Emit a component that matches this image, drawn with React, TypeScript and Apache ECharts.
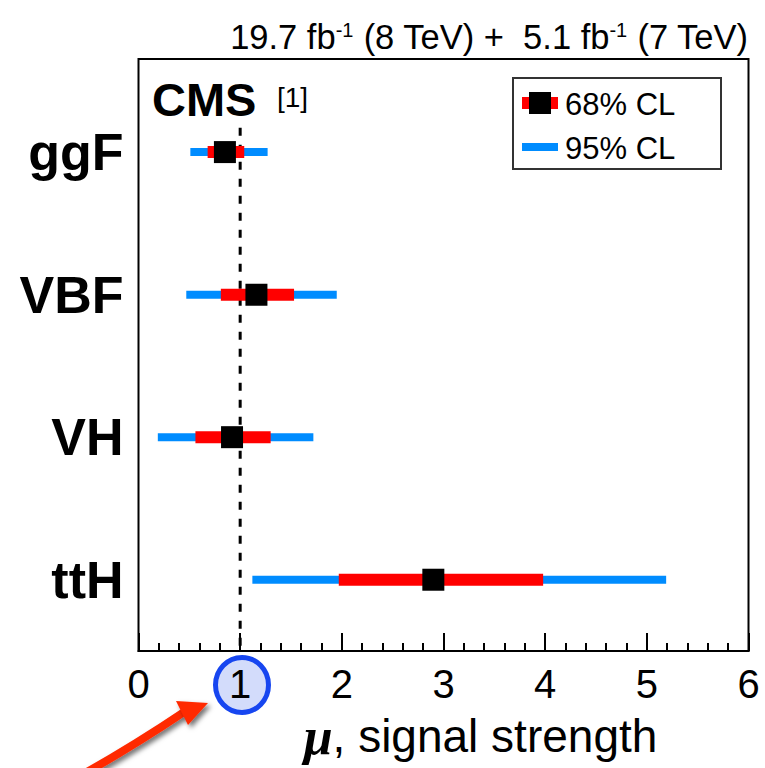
import React, { useEffect, useRef } from "react";
import * as echarts from "echarts";

// Production modes and their fitted signal strengths
const processes = ["ggF", "VBF", "VH", "ttH"];
const muBest = [0.85, 1.16, 0.92, 2.9];
const cl68Low = [0.68, 0.81, 0.56, 1.97];
const cl68High = [1.04, 1.53, 1.3, 3.98];
const cl95Low = [0.51, 0.47, 0.19, 1.12];
const cl95High = [1.27, 1.95, 1.72, 5.19];

// Standard Model expectation
const SM_MU = 1;

const xTicks = [0, 1, 2, 3, 4, 5, 6];

const RED = "#ff0000";
const BLUE = "#008cff";
const SANS = "'Liberation Sans', Arial, Helvetica, sans-serif";

const Y_MIN = -0.653;
const Y_MAX = 3.5;

export default function App() {
  const ref = useRef<HTMLDivElement>(null);

  useEffect(() => {
    if (!ref.current) return;
    const chart = echarts.init(ref.current, undefined, { renderer: "svg" });

    const rows = processes.map((_, i) => [
      i,
      muBest[i],
      cl68Low[i],
      cl68High[i],
      cl95Low[i],
      cl95High[i],
    ]);

    const option: any = {
      animation: false,
      backgroundColor: "#ffffff",
      grid: {
        left: 138.5,
        right: 16.5,
        top: 59,
        bottom: 117,
        outerBoundsMode: "none",
        containLabel: false,
        show: true,
        borderColor: "#000",
        borderWidth: 2,
        backgroundColor: "transparent",
      },
      xAxis: {
        type: "value",
        min: xTicks[0],
        max: xTicks[xTicks.length - 1],
        interval: 1,
        name: "{mu|μ}, signal strength",
        nameLocation: "middle",
        nameGap: 59,
        nameTextStyle: {
          fontFamily: SANS,
          fontSize: 46,
          color: "#000",
          padding: [0, 0, 0, 74],
          rich: {
            mu: {
              fontFamily: "'Liberation Serif', 'DejaVu Serif', serif",
              fontStyle: "italic",
              fontWeight: "bold",
              fontSize: 52,
              color: "#000",
            },
          },
        },
        axisLine: { show: true, onZero: false, lineStyle: { color: "#000", width: 2 } },
        axisTick: { show: true, inside: true, length: 18, lineStyle: { color: "#000", width: 2 } },
        minorTick: { show: true, splitNumber: 5, length: 8, lineStyle: { color: "#000", width: 2 } },
        splitLine: { show: false },
        axisLabel: {
          fontFamily: SANS,
          fontSize: 40,
          color: "#000",
          margin: 13,
          formatter: (v: number) => String(v),
        },
      },
      yAxis: {
        type: "value",
        inverse: true,
        min: Y_MIN,
        max: Y_MAX,
        axisLine: { show: false },
        axisTick: { show: false },
        splitLine: { show: false },
        axisLabel: {
          customValues: processes.map((_, i) => i),
          formatter: (v: number) => processes[Math.round(v)] ?? "",
          fontFamily: SANS,
          fontWeight: "bold",
          fontSize: 52,
          color: "#000",
          margin: 15,
        },
      },
      series: [
        {
          type: "line",
          data: [
            [SM_MU, -0.17],
            [SM_MU, Y_MAX],
          ],
          symbol: "none",
          lineStyle: { color: "#000", width: 3, type: [8, 9] },
          z: 1,
        },
        {
          type: "custom",
          data: rows,
          encode: { x: [1, 2, 3, 4, 5], y: 0 },
          z: 5,
          renderItem: (params: any, api: any) => {
            const row = api.value(0);
            const [xb, y] = api.coord([api.value(1), row]);
            const x68a = api.coord([api.value(2), row])[0];
            const x68b = api.coord([api.value(3), row])[0];
            const x95a = api.coord([api.value(4), row])[0];
            const x95b = api.coord([api.value(5), row])[0];
            return {
              type: "group",
              children: [
                {
                  type: "rect",
                  shape: { x: x95a, y: y - 4, width: x95b - x95a, height: 8 },
                  style: { fill: BLUE },
                },
                {
                  type: "rect",
                  shape: { x: x68a, y: y - 6, width: x68b - x68a, height: 12 },
                  style: { fill: RED },
                },
                {
                  type: "rect",
                  shape: { x: xb - 11, y: y - 11, width: 22, height: 22 },
                  style: { fill: "#000" },
                },
              ],
            };
          },
        },
      ],
      graphic: [
        // highlight around the SM tick label
        {
          type: "ellipse",
          z: -10,
          shape: { cx: 242, cy: 685, rx: 26.5, ry: 27.5 },
          style: { fill: "#d3dcfb", stroke: "#1746f0", lineWidth: 5 },
        },
        // pointer arrow
        {
          type: "bezierCurve",
          shape: { x1: 80, y1: 776, cpx1: 135, cpy1: 745, x2: 184, y2: 712 },
          style: {
            stroke: "#ff2a00",
            lineWidth: 8,
            fill: "none",
            shadowColor: "rgba(0,0,0,0.55)",
            shadowBlur: 5,
            shadowOffsetX: 3,
            shadowOffsetY: 3,
          },
        },
        {
          type: "polygon",
          shape: {
            points: [
              [176, 701],
              [208, 703],
              [188, 725],
            ],
          },
          style: {
            fill: "#ff2a00",
            shadowColor: "rgba(0,0,0,0.55)",
            shadowBlur: 5,
            shadowOffsetX: 3,
            shadowOffsetY: 3,
          },
        },
        // luminosity header
        {
          type: "text",
          x: 748,
          y: 37,
          style: {
            text: "19.7 fb{sup|-1} (8 TeV) +  5.1 fb{sup|-1} (7 TeV)",
            fontFamily: SANS,
            fontSize: 34.5,
            fill: "#000",
            align: "right",
            verticalAlign: "middle",
            rich: {
              sup: {
                fontFamily: SANS,
                fontSize: 20,
                fill: "#000",
                padding: [0, 0, 14, 0],
              },
            },
          },
        },
        // experiment label
        {
          type: "text",
          x: 152,
          y: 99,
          style: {
            text: "CMS",
            fontFamily: SANS,
            fontWeight: "bold",
            fontSize: 47,
            fill: "#000",
            verticalAlign: "middle",
          },
        },
        {
          type: "text",
          x: 277,
          y: 97,
          style: {
            text: "[1]",
            fontFamily: SANS,
            fontSize: 28,
            fill: "#000",
            verticalAlign: "middle",
          },
        },
        // legend box
        {
          type: "rect",
          shape: { x: 513, y: 78, width: 208, height: 91 },
          style: { fill: "#fff", stroke: "#333", lineWidth: 2 },
        },
        {
          type: "rect",
          shape: { x: 522, y: 97, width: 36, height: 12 },
          style: { fill: RED },
        },
        {
          type: "rect",
          shape: { x: 529, y: 92, width: 22, height: 22 },
          style: { fill: "#000" },
        },
        {
          type: "rect",
          shape: { x: 522, y: 143, width: 36, height: 8 },
          style: { fill: BLUE },
        },
        {
          type: "text",
          x: 565,
          y: 104,
          style: {
            text: "68% CL",
            fontFamily: SANS,
            fontSize: 31,
            fill: "#000",
            verticalAlign: "middle",
          },
        },
        {
          type: "text",
          x: 565,
          y: 148,
          style: {
            text: "95% CL",
            fontFamily: SANS,
            fontSize: 31,
            fill: "#000",
            verticalAlign: "middle",
          },
        },
      ],
    };

    chart.setOption(option);
    return () => chart.dispose();
  }, []);

  return <div ref={ref} style={{ width: 765, height: 768, position: "absolute", left: 0, top: 0 }} />;
}
